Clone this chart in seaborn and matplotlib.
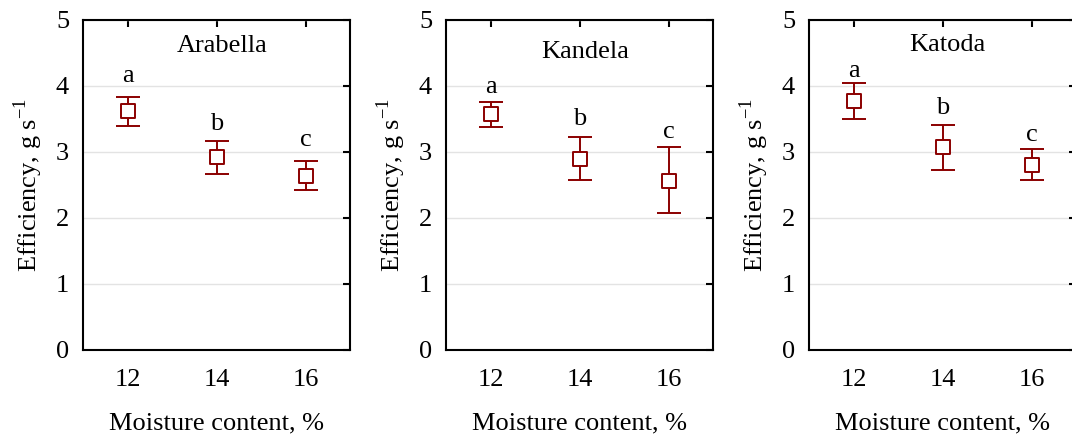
import numpy as np
import pandas as pd
import matplotlib
matplotlib.use("Agg")
import matplotlib.pyplot as plt
import seaborn as sns

### Donnees
moisture = [12, 14, 16]
varieties = ["Arabella", "Kandela", "Katoda"]

arabella_mean = [3.62, 2.92, 2.64]
arabella_low = [3.40, 2.66, 2.42]
arabella_high = [3.83, 3.17, 2.87]

kandela_mean = [3.57, 2.89, 2.56]
kandela_low = [3.38, 2.57, 2.07]
kandela_high = [3.76, 3.22, 3.07]

katoda_mean = [3.77, 3.07, 2.81]
katoda_low = [3.50, 2.72, 2.57]
katoda_high = [4.04, 3.41, 3.05]

letters = ["a", "b", "c"]
letter_y = {
    "Arabella": [4.15, 3.42, 3.18],
    "Kandela": [3.99, 3.50, 3.31],
    "Katoda": [4.23, 3.66, 3.26],
}
title_y = {"Arabella": 4.6, "Kandela": 4.52, "Katoda": 4.62}

dark_red = "#8b0000"

sns.set_style("white")
plt.rcParams["font.family"] = ["Liberation Serif", "DejaVu Serif"]
plt.rcParams["mathtext.fontset"] = "custom"
plt.rcParams["mathtext.rm"] = "Liberation Serif"
plt.rcParams["text.color"] = "black"
plt.rcParams["axes.labelcolor"] = "black"

df = pd.DataFrame({
    "variety": np.repeat(varieties, 3),
    "moisture": moisture * 3,
    "mean": arabella_mean + kandela_mean + katoda_mean,
    "low": arabella_low + kandela_low + katoda_low,
    "high": arabella_high + kandela_high + katoda_high,
})

fs = 19
fig = plt.figure(figsize=(10.72, 4.34), dpi=100)
lefts = [83, 446, 809]
for i, nom in enumerate(varieties):
    ax = fig.add_axes([lefts[i] / 1072, (434 - 350) / 434, 267 / 1072, 330 / 434])
    sub = df[df["variety"] == nom]
    ax.errorbar(sub["moisture"], sub["mean"],
                yerr=[sub["mean"] - sub["low"], sub["high"] - sub["mean"]],
                fmt="none", ecolor=dark_red, elinewidth=1.4, capsize=8.5,
                capthick=1.4, zorder=3)
    sns.scatterplot(data=sub, x="moisture", y="mean", ax=ax, marker="s",
                    s=100, facecolor="white", edgecolor=dark_red,
                    linewidth=1.4, zorder=4, legend=False)
    for x, lab, yl in zip(moisture, letters, letter_y[nom]):
        ax.text(x, yl, lab, ha="center", va="center", fontsize=fs)
    ax.text(0.52, (title_y[nom]) / 5, nom, transform=ax.transAxes,
            ha="center", va="center", fontsize=fs)
    ax.set_xlim(11, 17)
    ax.set_ylim(0, 5)
    ax.set_xticks(moisture)
    ax.set_yticks([0, 1, 2, 3, 4, 5])
    ax.yaxis.grid(True, color="#e3e3e3", linewidth=1)
    ax.set_axisbelow(True)
    for s in ax.spines.values():
        s.set_color("black")
        s.set_linewidth(1.5)
    ax.tick_params(direction="in", length=5, width=1.5, top=True, right=True,
                   labelsize=fs, pad=10, colors="black")
    ax.tick_params(axis="x", pad=14)
    ax.set_xlabel("Moisture content, %", fontsize=fs, labelpad=15)
    ax.set_ylabel("Efficiency, g s$^{-1}$", fontsize=fs, labelpad=8)

plt.savefig("out.png", dpi=100)
